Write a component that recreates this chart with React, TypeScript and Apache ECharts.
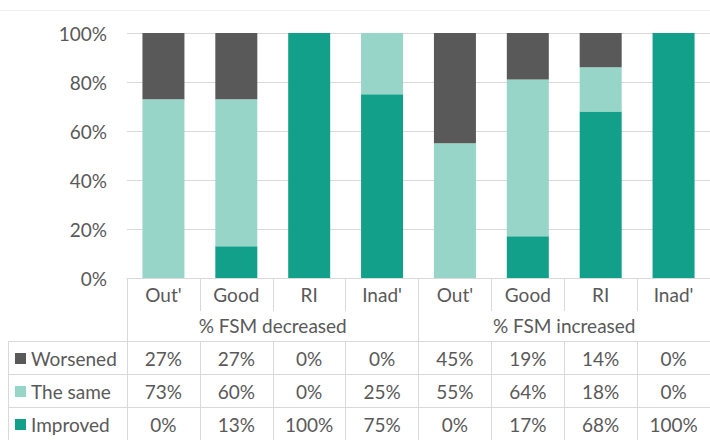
import React, { useEffect, useRef } from "react";
import * as echarts from "echarts";

const categories = ["Out'", "Good", "RI", "Inad'", "Out'", "Good", "RI", "Inad'"];
const groups = ["% FSM decreased", "% FSM increased"];
const improved = [0, 13, 100, 75, 0, 17, 68, 100];
const theSame = [73, 60, 0, 25, 55, 64, 18, 0];
const worsened = [27, 27, 0, 0, 45, 19, 14, 0];
const seriesNames = ["Worsened", "The same", "Improved"];

const COLORS = { Worsened: "#595959", "The same": "#96D5C8", Improved: "#13A08A" } as Record<string, string>;
const TEXT = "#595959";
const LINE = "#d9d9d9";
const FONT = "Lato, 'Liberation Sans', sans-serif";
const FS = 19;

const GRID_LEFT = 127;
const GRID_TOP = 33;
const GRID_W = 589;
const GRID_H = 245;
const ROW_H = 33;

export default function App() {
  const ref = useRef<HTMLDivElement>(null);
  useEffect(() => {
    document.body.style.margin = "0";
    if (!ref.current) return;
    const chart = echarts.init(ref.current, null, { renderer: "svg" });
    const axisBottom = GRID_TOP + GRID_H; // 278
    const pct = (a: number[]) => a.map((v) => v + "%");
    const label = (margin: number) => ({ color: TEXT, fontSize: FS, fontFamily: FONT, margin, interval: 0, lineHeight: FS });
    const rowAxis = (data: string[], offset: number) => ({
      type: "category",
      gridIndex: 0,
      position: "bottom",
      offset,
      data,
      axisLine: { show: true, lineStyle: { color: LINE, width: 1 } },
      axisTick: { show: true, length: ROW_H, lineStyle: { color: LINE } },
      axisLabel: label(8),
      splitLine: { show: false },
    });
    const rowData: Record<string, number[]> = { Worsened: worsened, "The same": theSame, Improved: improved };
    const tableTop = axisBottom + 2 * ROW_H - 3; // ~341
    const legends = seriesNames.map((name, i) => ({
      data: [name],
      left: 15,
      top: tableTop + i * ROW_H + 17.5 - FS / 2,
      orient: "vertical",
      padding: 0,
      icon: "rect",
      itemWidth: 11,
      itemHeight: 11,
      selectedMode: false,
      textStyle: { color: TEXT, fontSize: FS, fontFamily: FONT, lineHeight: FS },
    }));
    const leftLines: any[] = [];
    for (let i = 0; i < 3; i++) {
      const y = tableTop + i * ROW_H + 0.5;
      leftLines.push({ type: "line", shape: { x1: 8, y1: y, x2: GRID_LEFT, y2: y }, style: { stroke: LINE, lineWidth: 1 } });
    }
    leftLines.push({ type: "line", shape: { x1: 8.5, y1: tableTop, x2: 8.5, y2: 440 }, style: { stroke: LINE, lineWidth: 1 } });
    leftLines.push({ type: "line", shape: { x1: 0, y1: 10.5, x2: 710, y2: 10.5 }, style: { stroke: "#efefef", lineWidth: 1 } });

    chart.setOption({
      animation: false,
      grid: { left: GRID_LEFT, top: GRID_TOP, width: GRID_W, height: GRID_H, containLabel: false },
      legend: legends,
      graphic: leftLines,
      xAxis: [
        {
          type: "category",
          data: categories,
          position: "bottom",
          axisLine: { show: true, lineStyle: { color: LINE, width: 1 } },
          axisTick: { show: true, length: ROW_H, lineStyle: { color: LINE } },
          axisLabel: label(7),
        },
        {
          type: "category",
          data: groups,
          position: "bottom",
          offset: 0,
          axisLine: { show: false },
          axisTick: { show: true, length: 2 * ROW_H - 3, lineStyle: { color: LINE } },
          axisLabel: label(38),
        },
        rowAxis(pct(rowData["Worsened"]), 2 * ROW_H - 3),
        rowAxis(pct(rowData["The same"]), 3 * ROW_H - 3),
        rowAxis(pct(rowData["Improved"]), 4 * ROW_H - 3),
      ],
      yAxis: {
        type: "value",
        min: 0,
        max: 100,
        interval: 20,
        axisLine: { show: false },
        axisTick: { show: false },
        axisLabel: { formatter: "{value}%", color: TEXT, fontSize: FS, fontFamily: FONT, margin: 20 },
        splitLine: { lineStyle: { color: LINE, width: 1 } },
      },
      series: [
        { name: "Improved", type: "bar", stack: "a", barWidth: 42, data: improved, itemStyle: { color: COLORS.Improved } },
        { name: "The same", type: "bar", stack: "a", barWidth: 42, data: theSame, itemStyle: { color: COLORS["The same"] } },
        { name: "Worsened", type: "bar", stack: "a", barWidth: 42, data: worsened, itemStyle: { color: COLORS.Worsened } },
      ],
    });
    return () => chart.dispose();
  }, []);
  return <div ref={ref} style={{ width: 710, height: 440 }} />;
}
